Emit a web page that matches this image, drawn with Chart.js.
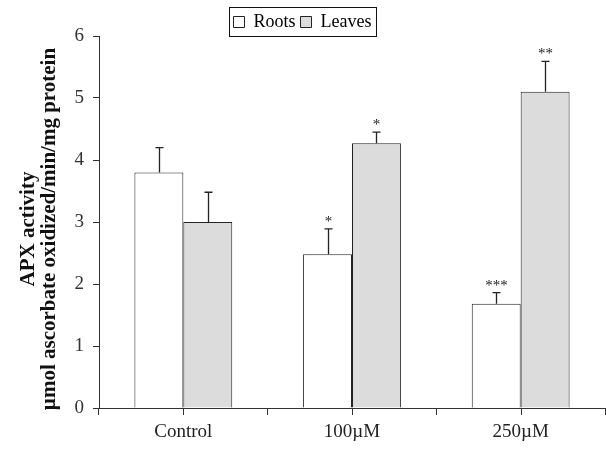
<!DOCTYPE html>
<html>
<head>
<meta charset="utf-8">
<script src="https://cdn.jsdelivr.net/npm/chart.js@4.4.0/dist/chart.umd.min.js"></script>
<style>
    html, body { margin: 0; padding: 0; background: #fff; }
    #wrap { width: 606px; height: 450px; }
</style>
</head>
<body>
<div id="wrap"><canvas id="apx-chart"></canvas></div>
<script>
const categories = ['Control', '100µM', '250µM'];
const roots = [3.8, 2.48, 1.68];
const rootsErr = [0.4, 0.41, 0.18];
const leaves = [3.0, 4.27, 5.1];
const leavesErr = [0.48, 0.18, 0.49];
const rootsStars = ['', '*', '***'];
const leavesStars = ['', '*', '**'];
const yTitle = ['APX activity', 'µmol ascorbate oxidized/min/mg protein'];

const serif = '"Liberation Serif", "Times New Roman", serif';
const axisColor = '#333';

// error bars (upper only) + significance stars
const errorBars = {
    id: 'errorBars',
    afterDatasetsDraw(chart) {
        const ctx = chart.ctx;
        const y = chart.scales.y;
        const errs = [rootsErr, leavesErr];
        const stars = [rootsStars, leavesStars];
        ctx.save();
        ctx.strokeStyle = '#222';
        ctx.fillStyle = '#222';
        ctx.lineWidth = 1.3;
        ctx.font = '15px ' + serif;
        ctx.textAlign = 'center';
        ctx.textBaseline = 'alphabetic';
        chart.data.datasets.forEach((ds, di) => {
            const meta = chart.getDatasetMeta(di);
            meta.data.forEach((bar, i) => {
                const top = y.getPixelForValue(ds.data[i] + errs[di][i]);
                const x = Math.round(bar.x) + 0.5;
                ctx.beginPath();
                ctx.moveTo(x, bar.y);
                ctx.lineTo(x, top);
                ctx.moveTo(x - 4, top);
                ctx.lineTo(x + 4, top);
                ctx.stroke();
                if (stars[di][i]) {
                    ctx.fillText(stars[di][i], x, top - 3);
                }
            });
        });
        ctx.restore();
    }
};

// extra x ticks under the category centres, box round the legend, y title
const decorations = {
    id: 'decorations',
    beforeLayout(chart) {
        // let the legend box sit right on top of the plot area
        const lg = chart.legend;
        if (lg && !lg._tight) {
            const fit = lg.fit;
            lg.fit = function () {
                fit.call(this);
                this.height -= 5;
            };
            lg._tight = true;
        }
    },
    afterDraw(chart) {
        const ctx = chart.ctx;
        const xs = chart.scales.x;
        const area = chart.chartArea;
        ctx.save();
        ctx.strokeStyle = axisColor;
        ctx.lineWidth = 1;
        categories.forEach((c, i) => {
            const px = Math.round(xs.getPixelForValue(i)) + 0.5;
            ctx.beginPath();
            ctx.moveTo(px, area.bottom);
            ctx.lineTo(px, area.bottom + 7);
            ctx.stroke();
        });

        const boxes = chart.legend.legendHitBoxes;
        if (boxes && boxes.length) {
            const left = Math.min(...boxes.map(b => b.left)) - 5;
            const right = Math.max(...boxes.map(b => b.left + b.width)) + 4;
            const top = Math.min(...boxes.map(b => b.top)) - 6;
            const bottom = Math.max(...boxes.map(b => b.top + b.height)) + 5;
            ctx.strokeStyle = '#111';
            ctx.strokeRect(Math.round(left) + 0.5, Math.round(top) + 0.5, Math.round(right - left), Math.round(bottom - top));
        }

        ctx.fillStyle = '#111';
        ctx.font = 'bold 21px ' + serif;
        ctx.textAlign = 'center';
        ctx.textBaseline = 'alphabetic';
        const cy = 229;
        [34, 55].forEach((bx, k) => {
            ctx.save();
            ctx.translate(bx, cy);
            ctx.rotate(-Math.PI / 2);
            ctx.fillText(yTitle[k], 0, 0);
            ctx.restore();
        });
        ctx.restore();
    }
};

const apxChart = document.getElementById('apx-chart').getContext('2d');
new Chart(apxChart, {
    type: 'bar',
    data: {
        labels: categories,
        datasets: [{
            label: 'Roots',
            data: roots,
            backgroundColor: '#ffffff',
            borderColor: '#222',
            borderWidth: 1,
        }, {
            label: 'Leaves',
            data: leaves,
            backgroundColor: '#dcdcdc',
            borderColor: '#222',
            borderWidth: 1,
        }]
    },
    options: {
        responsive: true,
        maintainAspectRatio: false,
        animation: false,
        datasets: {
            bar: {
                categoryPercentage: 0.58,
                barPercentage: 1.0,
            }
        },
        layout: {
            padding: { left: 0, right: 1, top: 8, bottom: 0 }
        },
        plugins: {
            legend: {
                position: 'top',
                labels: {
                    boxWidth: 11,
                    boxHeight: 11,
                    padding: 5,
                    color: '#000',
                    font: { family: serif, size: 18 },
                }
            },
            tooltip: { enabled: false },
            title: { display: false },
        },
        scales: {
            x: {
                offset: true,
                grid: {
                    offset: true,
                    drawOnChartArea: false,
                    drawTicks: true,
                    tickLength: 7,
                    color: axisColor,
                },
                border: { display: true, color: axisColor, width: 1 },
                ticks: {
                    color: '#222',
                    padding: 6,
                    font: { family: serif, size: 19 },
                },
                afterFit(scale) { scale.height = 42; }
            },
            y: {
                min: 0,
                max: 6,
                ticks: {
                    stepSize: 1,
                    color: '#333',
                    padding: 9,
                    font: { family: serif, size: 19 },
                },
                grid: {
                    drawOnChartArea: false,
                    drawTicks: true,
                    tickLength: 6,
                    color: axisColor,
                },
                border: { display: true, color: axisColor, width: 1 },
                afterFit(scale) { scale.width = 99; }
            }
        }
    },
    plugins: [errorBars, decorations]
});
</script>
</body>
</html>
